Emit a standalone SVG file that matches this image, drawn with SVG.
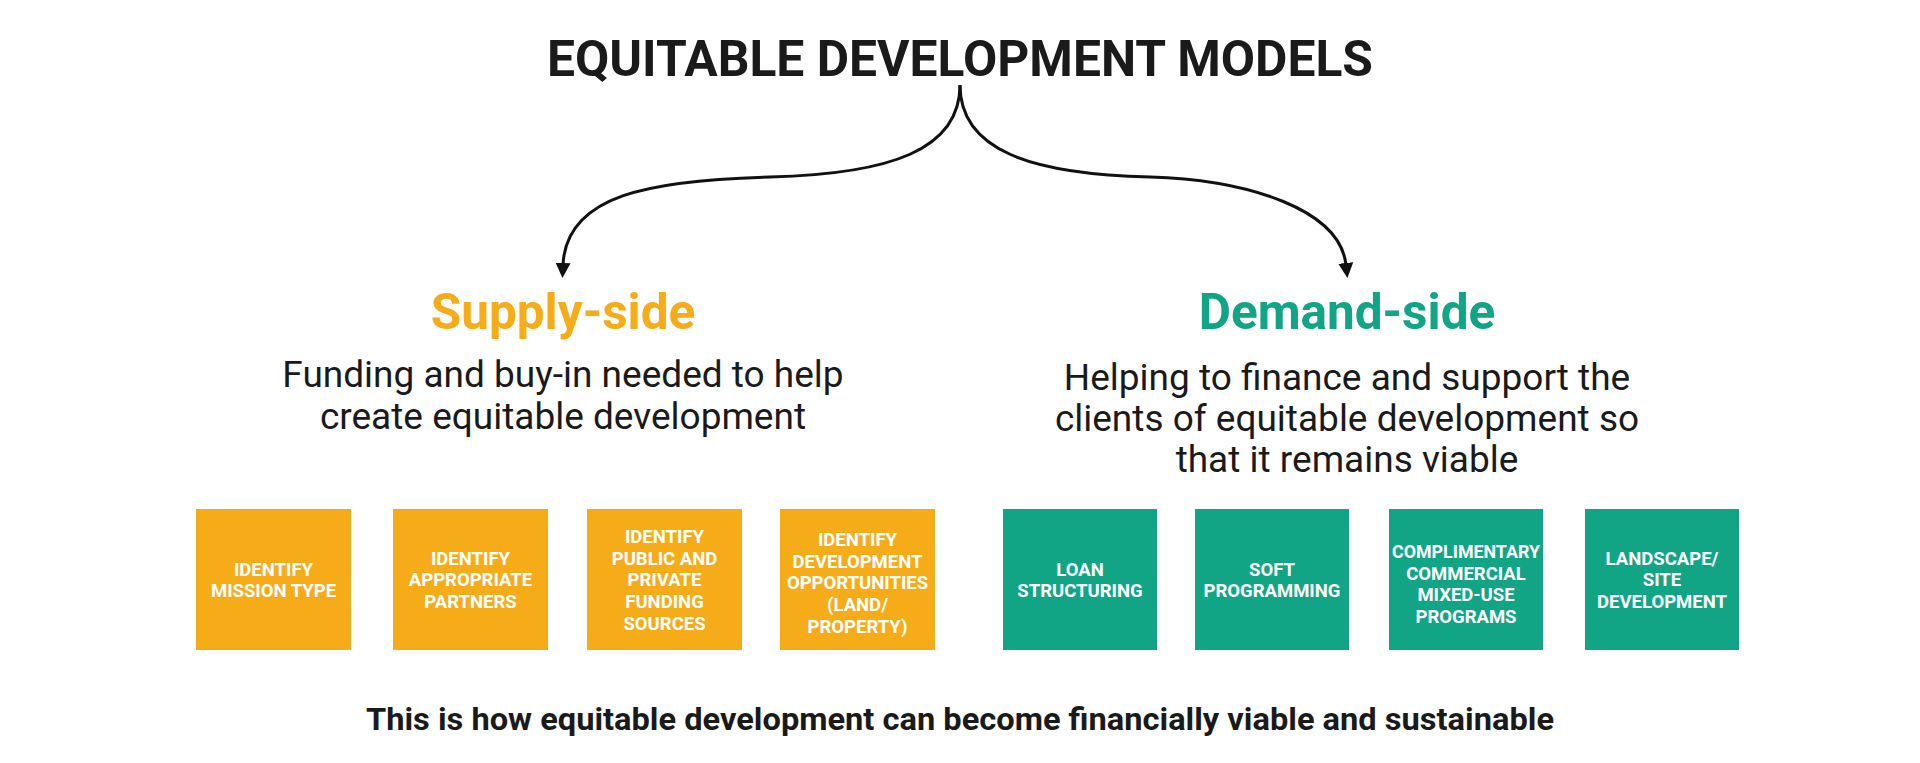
<svg xmlns="http://www.w3.org/2000/svg" width="1920" height="763" viewBox="0 0 1920 763">
  <style>
    text { font-family: Roboto, "Liberation Sans", sans-serif; }
    .title { font-size: 50px; font-weight: 700; fill: #1a1a1a; text-anchor: middle; }
    .head { font-size: 49.5px; font-weight: 700; text-anchor: middle; }
    .sub { font-size: 37px; font-weight: 400; fill: #1a1a1a; text-anchor: middle; }
    .foot { font-size: 31px; font-weight: 700; fill: #1a1a1a; text-anchor: middle; }
    .box-o { fill: #F6AC19; }
    .box-g { fill: #11A586; }
    .lbl { font-size: 18.5px; font-weight: 700; fill: #ffffff; text-anchor: middle; }
    .conn { fill: none; stroke: #111111; stroke-width: 3; }
  </style>
  <defs>
    <marker id="ah" markerUnits="userSpaceOnUse" markerWidth="16" markerHeight="16" viewBox="0 0 16 16" refX="2" refY="8" orient="auto">
      <path d="M0,0.5 L15,8 L0,15.5 z" fill="#111111"/>
    </marker>
  </defs>
  <rect width="1920" height="763" fill="#ffffff"/>

  <g id="title">
    <text class="title" x="960" y="76" textLength="826" lengthAdjust="spacingAndGlyphs">EQUITABLE DEVELOPMENT MODELS</text>
  </g>

  <g id="connectors">
    <path class="conn" marker-end="url(#ah)" d="M960,85 C960,150 890,174 770,177 C650,180 566,195 563,265"/>
    <path class="conn" marker-end="url(#ah)" d="M960,85 C960,150 1030,174 1150,177 C1250,180 1340,210 1346,265"/>
  </g>

  <g id="supply-side">
    <text class="head" x="563" y="329" fill="#F6AC19">Supply-side</text>
    <text class="sub" x="563" y="387">Funding and buy-in needed to help</text>
    <text class="sub" x="563" y="429">create equitable development</text>
  </g>

  <g id="demand-side">
    <text class="head" x="1347" y="329" fill="#11A586">Demand-side</text>
    <text class="sub" x="1347" y="390">Helping to finance and support the</text>
    <text class="sub" x="1347" y="431">clients of equitable development so</text>
    <text class="sub" x="1347" y="472">that it remains viable</text>
  </g>

  <g id="box-mission">
    <rect class="box-o" x="196" y="509" width="155" height="141"/>
    <text class="lbl" x="273.5" y="575.5">IDENTIFY</text>
    <text class="lbl" x="273.5" y="597.3">MISSION TYPE</text>
  </g>
  <g id="box-partners">
    <rect class="box-o" x="393" y="509" width="155" height="141"/>
    <text class="lbl" x="470.5" y="564.6">IDENTIFY</text>
    <text class="lbl" x="470.5" y="586.4">APPROPRIATE</text>
    <text class="lbl" x="470.5" y="608.2">PARTNERS</text>
  </g>
  <g id="box-funding">
    <rect class="box-o" x="587" y="509" width="155" height="141"/>
    <text class="lbl" x="664.5" y="542.8">IDENTIFY</text>
    <text class="lbl" x="664.5" y="564.6">PUBLIC AND</text>
    <text class="lbl" x="664.5" y="586.4">PRIVATE</text>
    <text class="lbl" x="664.5" y="608.2">FUNDING</text>
    <text class="lbl" x="664.5" y="630">SOURCES</text>
  </g>
  <g id="box-opportunities">
    <rect class="box-o" x="780" y="509" width="155" height="141"/>
    <text class="lbl" x="857.5" y="545.8">IDENTIFY</text>
    <text class="lbl" x="857.5" y="567.6">DEVELOPMENT</text>
    <text class="lbl" x="857.5" y="589.4">OPPORTUNITIES</text>
    <text class="lbl" x="857.5" y="611.2">(LAND/</text>
    <text class="lbl" x="857.5" y="633">PROPERTY)</text>
  </g>

  <g id="box-loan">
    <rect class="box-g" x="1003" y="509" width="154" height="141"/>
    <text class="lbl" x="1080" y="575.5">LOAN</text>
    <text class="lbl" x="1080" y="597.3">STRUCTURING</text>
  </g>
  <g id="box-soft">
    <rect class="box-g" x="1195" y="509" width="154" height="141"/>
    <text class="lbl" x="1272" y="575.5">SOFT</text>
    <text class="lbl" x="1272" y="597.3">PROGRAMMING</text>
  </g>
  <g id="box-commercial">
    <rect class="box-g" x="1389" y="509" width="154" height="141"/>
    <text class="lbl" x="1466" y="557.7" textLength="148" lengthAdjust="spacingAndGlyphs">COMPLIMENTARY</text>
    <text class="lbl" x="1466" y="579.5">COMMERCIAL</text>
    <text class="lbl" x="1466" y="601.3">MIXED-USE</text>
    <text class="lbl" x="1466" y="623.1">PROGRAMS</text>
  </g>
  <g id="box-landscape">
    <rect class="box-g" x="1585" y="509" width="154" height="141"/>
    <text class="lbl" x="1662" y="564.6">LANDSCAPE/</text>
    <text class="lbl" x="1662" y="586.4">SITE</text>
    <text class="lbl" x="1662" y="608.2">DEVELOPMENT</text>
  </g>

  <g id="footer">
    <text class="foot" x="960" y="730" textLength="1188" lengthAdjust="spacingAndGlyphs">This is how equitable development can become financially viable and sustainable</text>
  </g>
</svg>
